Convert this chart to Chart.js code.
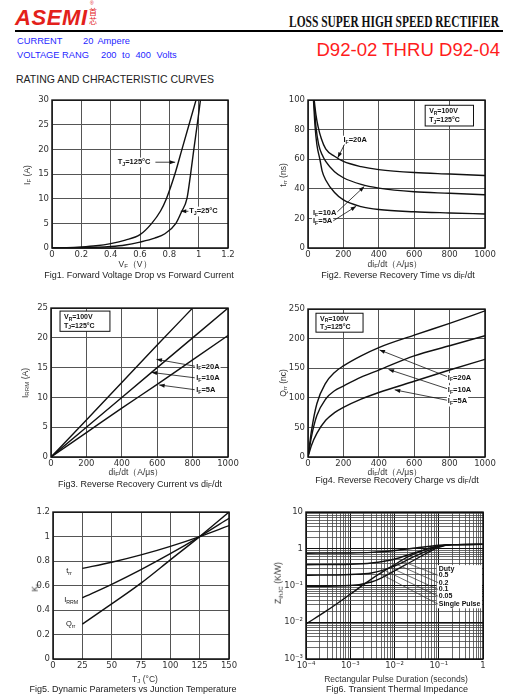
<!DOCTYPE html>
<html>
<head>
<meta charset="utf-8">
<title>D92-02 THRU D92-04</title>
<script src="https://cdn.jsdelivr.net/npm/chart.js@4.4.0/dist/chart.umd.min.js"></script>
<style>
  html, body { margin:0; padding:0; background:#fff; }
  body { position:relative; width:511px; height:698px; overflow:hidden; font-family:"Liberation Sans", Arial, sans-serif; color:#222; }
  .a { position:absolute; white-space:nowrap; line-height:1; }
  .c { transform:translate(-50%,-50%); }
  .r { transform:translate(-50%,-50%) rotate(-90deg); }
  .lm { transform:translateY(-50%); }
  sub { font-size:0.72em; vertical-align:-0.25em; line-height:0; }
  .cap { font-size:9px; color:#222; }
  .ax { font-size:8.5px; color:#333; }
  .blue { color:#1f1fff; font-size:9.3px; }
  .plot { position:absolute; }
</style>
</head>
<body>
<div id="charts"></div>

<!-- header -->
<div class="a" style="left:15px;top:5px;font:italic bold 22px 'Liberation Sans',Arial,sans-serif;color:#e3211b;letter-spacing:0.6px">ASEMI</div>
<div class="a" style="left:90px;top:1px;font-size:5px;color:#e3211b">®</div>
<div class="a" style="left:89px;top:7px;width:8px;font:8px 'Noto Sans CJK SC',sans-serif;line-height:9px;color:#e3211b;white-space:normal">首<br>芯</div>
<div id="ttl" class="a lm" style="left:289px;top:21px;font:bold 17.5px 'Liberation Serif',serif;color:#111;transform-origin:left center">LOSS SUPER HIGH SPEED RECTIFIER</div>
<div class="a" style="left:15px;top:30px;width:488px;height:2px;background:#000"></div>
<div class="a lm blue" style="left:17px;top:42px">CURRENT</div>
<div class="a lm blue" style="left:83px;top:42px;word-spacing:2px">20 Ampere</div>
<div class="a lm blue" style="left:17px;top:56px">VOLTAGE RANG</div>
<div class="a lm blue" style="left:101px;top:56px;word-spacing:3px">200 to 400 Volts</div>
<div class="a lm" style="right:11px;top:50px;font-size:18.6px;color:#ff1c1c">D92-02 THRU D92-04</div>
<div class="a lm" style="left:16px;top:79px;font-size:10.5px;color:#222">RATING AND CHRACTERISTIC CURVES</div>

<!-- axis titles and captions -->
<div class="a r ax" style="left:27px;top:175px">I<sub>F</sub> (A)</div>
<div class="a c ax" style="left:135px;top:264px">V<sub>F</sub>（V）</div>
<div class="a c cap" style="left:139px;top:275px">Fig1. Forward Voltage Drop vs Forward Current</div>

<div class="a r ax" style="left:283px;top:175px">t<sub>rr</sub> (ns)</div>
<div class="a c ax" style="left:395px;top:264px">di<sub>F</sub>/dt（A/μs）</div>
<div class="a c cap" style="left:398px;top:275px">Fig2. Reverse Recovery Time vs di<sub>F</sub>/dt</div>

<div class="a r ax" style="left:25px;top:383px">I<sub>RRM</sub> (A)</div>
<div class="a c ax" style="left:136px;top:472px">di<sub>F</sub>/dt（A/μs）</div>
<div class="a c cap" style="left:140px;top:484px">Fig3. Reverse Recovery Current vs di<sub>F</sub>/dt</div>

<div class="a r ax" style="left:283px;top:383px">Q<sub>rr</sub> (nc)</div>
<div class="a c ax" style="left:395px;top:472px">di<sub>F</sub>/dt（A/μs）</div>
<div class="a c cap" style="left:397px;top:480px">Fig4. Reverse Recovery Charge vs di<sub>F</sub>/dt</div>

<div class="a r ax" style="left:35px;top:588px">K<sub>f</sub></div>
<div class="a c ax" style="left:145px;top:679px">T<sub>J</sub> (°C)</div>
<div class="a c cap" style="left:133px;top:689px">Fig5. Dynamic Parameters vs Junction Temperature</div>

<div class="a r ax" style="left:278px;top:583px">Z<sub>thJC</sub> (K/W)</div>
<div class="a c ax" style="left:396px;top:679px">Rectangular Pulse Duration (seconds)</div>
<div class="a c cap" style="left:397px;top:689px">Fig6. Transient Thermal Impedance</div>

<script>
// ---- Fig1: forward voltage vs forward current
const f1V125 = [0, 0.1, 0.2, 0.3, 0.4, 0.5, 0.6, 0.68, 0.74, 0.78, 0.838, 0.886, 0.934, 0.982];
const f1I125 = [0, 0.05, 0.2, 0.45, 0.9, 1.6, 2.7, 5, 7.5, 10, 15, 20, 25, 30];
const f1V25 = [0, 0.2, 0.4, 0.5, 0.6, 0.7, 0.77, 0.845, 0.884, 0.92, 0.945, 0.967, 0.99, 1.012];
const f1I25 = [0, 0.05, 0.3, 0.6, 1.2, 2.0, 2.9, 5, 7.4, 10, 15, 20, 25, 30];

// ---- Fig2: trr vs diF/dt
const f2X20 = [35, 45, 57, 75, 100, 150, 200, 300, 400, 600, 800, 1000];
const f2Y20 = [100, 90, 82, 74, 67, 62, 58.5, 55, 53, 51, 50, 49];
const f2X10 = [33, 45, 60, 80, 100, 150, 200, 300, 400, 600, 800, 1000];
const f2Y10 = [100, 82, 70, 63, 58.5, 51.5, 47.5, 43, 40.5, 38, 37, 36];
const f2X5 = [31, 40, 50, 67, 80, 100, 150, 200, 300, 400, 600, 800, 1000];
const f2Y5 = [100, 82, 70, 60, 52, 46, 37.5, 32.5, 28, 26, 24.5, 23.7, 23];

// ---- Fig3: Irrm vs diF/dt
const f3X20 = [0, 200, 400, 600, 800];
const f3Y20 = [0, 6.2, 12.5, 18.8, 25];
const f3X = [0, 200, 400, 600, 800, 1000];
const f3Y10 = [0, 5, 10, 15, 20, 25];
const f3Y5 = [0, 4.1, 8.2, 12.2, 16.3, 20.4];

// ---- Fig4: Qrr vs diF/dt
const f4X = [0, 20, 50, 100, 150, 200, 300, 400, 600, 800, 1000];
const f4Y20 = [0, 45, 90, 125, 143, 154, 171, 185, 206, 226, 247];
const f4Y10 = [0, 35, 70, 98, 112, 120, 135, 147, 171, 188, 205];
const f4Y5 = [0, 20, 40, 62, 75, 84, 98, 109, 128, 147, 165];

// ---- Fig5: Kf vs Tj
const f5T = [25, 50, 75, 100, 125, 150];
const f5Trr = [0.74, 0.79, 0.85, 0.92, 1.0, 1.09];
const f5Irrm = [0.5, 0.61, 0.73, 0.86, 1.0, 1.15];
const f5Qrr = [0.285, 0.45, 0.62, 0.81, 1.0, 1.2];

// ---- Fig6: transient thermal impedance
const f6X05 = [1e-4, 1e-3, 3e-3, 1e-2, 3e-2, 1e-1, 2e-1, 1];
const f6Y05 = [0.76, 0.77, 0.8, 0.9, 1.05, 1.25, 1.3, 1.32];
const f6X02 = [1e-4, 1e-3, 3e-3, 1e-2, 3e-2, 1e-1, 2e-1, 1];
const f6Y02 = [0.37, 0.38, 0.41, 0.52, 0.8, 1.2, 1.3, 1.32];
const f6X01 = [1e-4, 1e-3, 3e-3, 1e-2, 3e-2, 1e-1, 2e-1, 1];
const f6Y01 = [0.19, 0.2, 0.22, 0.34, 0.64, 1.15, 1.3, 1.32];
const f6X005 = [1e-4, 1e-3, 3e-3, 5e-3, 1e-2, 3e-2, 1e-1, 2e-1, 1];
const f6Y005 = [0.095, 0.1, 0.125, 0.16, 0.25, 0.52, 1.1, 1.3, 1.32];
const f6XS = [1e-4, 3e-4, 1e-3, 3e-3, 1e-2, 2e-2, 5e-2, 1e-1, 2e-1, 1];
const f6YS = [0.009, 0.021, 0.058, 0.15, 0.37, 0.6, 0.95, 1.18, 1.3, 1.32];
const f6xDecades = [1e-4, 1e-3, 1e-2, 1e-1, 1];
const f6xTickLabels = ['10⁻⁴', '10⁻³', '10⁻²', '10⁻¹', '1'];
const f6yDecades = [1e-3, 1e-2, 1e-1, 1, 10];
const f6yTickLabels = ['10⁻³', '10⁻²', '10⁻¹', '1', '10'];
const f6Labels = ['Duty', '0.5', '0.2', '0.1', '0.05', 'Single Pulse'];
const f6LabelY = [0.29, 0.19, 0.12, 0.078, 0.051, 0.031];
const f6LeadX = [null, 0.0135, 0.0105, 0.008, 0.0062, 0.0048];
const f6LeadY = [null, 0.48, 0.39, 0.31, 0.254, 0.207];

const FONT = '"Liberation Sans", Arial, sans-serif';
const INK = '#111';

// helpers
function pts(xs, ys) { return xs.map((x, i) => ({x: x, y: ys[i]})); }
function line(xs, ys) {
  return { data: pts(xs, ys), showLine: true, borderColor: INK, borderWidth: 1.4, pointRadius: 0, cubicInterpolationMode: 'monotone' };
}
function P(ch, x, y) { return [ch.scales.x.getPixelForValue(x), ch.scales.y.getPixelForValue(y)]; }

function richWidth(ctx, parts, size, bold) {
  let w = 0;
  parts.forEach(p => {
    const sub = p[0] === '_';
    ctx.font = (bold ? 'bold ' : '') + (sub ? size * 0.7 : size) + 'px ' + FONT;
    w += ctx.measureText(sub ? p.slice(1) : p).width;
  });
  return w;
}
function rich(ctx, parts, x, y, size, bold, align, bg) {
  const w = richWidth(ctx, parts, size, bold);
  let cx = align === 'center' ? x - w / 2 : (align === 'right' ? x - w : x);
  if (bg) { ctx.fillStyle = '#fff'; ctx.fillRect(cx - 1, y - size * 0.62, w + 2, size * 1.3); }
  ctx.textBaseline = 'middle'; ctx.textAlign = 'left'; ctx.fillStyle = INK;
  parts.forEach(p => {
    const sub = p[0] === '_';
    const t = sub ? p.slice(1) : p;
    ctx.font = (bold ? 'bold ' : '') + (sub ? size * 0.7 : size) + 'px ' + FONT;
    ctx.fillText(t, cx, y + (sub ? size * 0.3 : 0));
    cx += ctx.measureText(t).width;
  });
}
function arrow(ctx, a, b) {
  ctx.strokeStyle = INK; ctx.lineWidth = 0.8;
  ctx.beginPath(); ctx.moveTo(a[0], a[1]); ctx.lineTo(b[0], b[1]); ctx.stroke();
  const ang = Math.atan2(b[1] - a[1], b[0] - a[0]), L = 5.5, W = 2;
  ctx.beginPath();
  ctx.moveTo(b[0], b[1]);
  ctx.lineTo(b[0] - L * Math.cos(ang) + W * Math.sin(ang), b[1] - L * Math.sin(ang) - W * Math.cos(ang));
  ctx.lineTo(b[0] - L * Math.cos(ang) - W * Math.sin(ang), b[1] - L * Math.sin(ang) + W * Math.cos(ang));
  ctx.closePath(); ctx.fillStyle = INK; ctx.fill();
}
function infoBox(ch, ctx, x1, y1, x2, y2) {
  const a = P(ch, x1, y1), b = P(ch, x2, y2);
  ctx.fillStyle = '#fff'; ctx.fillRect(a[0], a[1], b[0] - a[0], b[1] - a[1]);
  ctx.strokeStyle = INK; ctx.lineWidth = 1; ctx.strokeRect(a[0], a[1], b[0] - a[0], b[1] - a[1]);
  const h = b[1] - a[1];
  rich(ctx, ['V', '_R', '=100V'], a[0] + 4, a[1] + h * 0.3, 7, true, 'left', false);
  rich(ctx, ['T', '_J', '=125°C'], a[0] + 4, a[1] + h * 0.72, 7, true, 'left', false);
}

function tickFont() { return { family: '"DejaVu Sans", sans-serif', size: 8.5 }; }
function linAxis(min, max, step, isX) {
  return {
    type: 'linear', min: min, max: max,
    ticks: { stepSize: step, padding: isX ? 2 : 3, color: '#333', font: tickFont(), autoSkip: false,
             callback: v => String(Math.round(v * 100) / 100) },
    grid: { color: '#555', lineWidth: 1, drawTicks: false },
    border: { display: false },
    afterFit: isX ? (s => { s.height = 16; }) : (s => { s.width = 40; })
  };
}
function frame(ch) {
  const a = ch.chartArea, ctx = ch.ctx;
  ctx.save(); ctx.strokeStyle = INK; ctx.lineWidth = 1.5;
  ctx.strokeRect(a.left, a.top, a.right - a.left, a.bottom - a.top);
  ctx.restore();
}

function mount(rect) {
  const [L, T, R, B] = rect;
  const w = R - L + 56, h = B - T + 24;
  const d = document.createElement('div');
  d.className = 'plot';
  d.style.left = (L - 40) + 'px'; d.style.top = (T - 8) + 'px';
  d.style.width = w + 'px'; d.style.height = h + 'px';
  const c = document.createElement('canvas');
  c.width = w; c.height = h;
  d.appendChild(c);
  document.getElementById('charts').appendChild(d);
  return c;
}

function makeChart(rect, datasets, xAxis, yAxis, draw) {
  return new Chart(mount(rect), {
    type: 'scatter',
    data: { datasets: datasets },
    options: {
      responsive: false, animation: false,
      layout: { padding: { left: 0, top: 8, right: 16, bottom: 0 } },
      plugins: { legend: { display: false }, tooltip: { enabled: false } },
      scales: { x: xAxis, y: yAxis }
    },
    plugins: [{
      id: 'decor',
      afterDatasetsDraw(ch) {
        frame(ch);
        const ctx = ch.ctx; ctx.save(); draw(ch, ctx); ctx.restore();
      }
    }]
  });
}

// Fig1
makeChart([52, 100, 228, 248],
  [line(f1V125, f1I125), line(f1V25, f1I25)],
  linAxis(0, 1.2, 0.2, true), linAxis(0, 30, 5, false),
  (ch, ctx) => {
    let p = P(ch, 0.56, 17.4);
    rich(ctx, ['T', '_J', '=125°C'], p[0], p[1], 7.5, true, 'center', true);
    arrow(ctx, P(ch, 0.705, 17.4), P(ch, 0.84, 17.4));
    p = P(ch, 0.935, 7.45);
    rich(ctx, ['T', '_J', '=25°C'], p[0], p[1], 7.5, true, 'left', true);
    arrow(ctx, P(ch, 0.93, 7.45), P(ch, 0.878, 7.45));
  });

// Fig2
makeChart([308, 100, 485, 248],
  [line(f2X20, f2Y20), line(f2X10, f2Y10), line(f2X5, f2Y5)],
  linAxis(0, 1000, 200, true), linAxis(0, 100, 20, false),
  (ch, ctx) => {
    infoBox(ch, ctx, 662, 96.5, 935, 82.5);
    let p = P(ch, 200, 72.8);
    rich(ctx, ['I', '_F', '=20A'], p[0], p[1], 7.5, true, 'left', true);
    arrow(ctx, P(ch, 206, 70), P(ch, 168, 61));
    p = P(ch, 28, 23.8);
    rich(ctx, ['I', '_F', '=10A'], p[0], p[1], 7.5, true, 'left', true);
    arrow(ctx, P(ch, 166, 24.5), P(ch, 318, 41.6));
    p = P(ch, 28, 18.2);
    rich(ctx, ['I', '_F', '=5A'], p[0], p[1], 7.5, true, 'left', true);
    arrow(ctx, P(ch, 143, 18.4), P(ch, 272, 28.2));
  });

// Fig3
makeChart([51, 308, 228, 457],
  [line(f3X20, f3Y20), line(f3X, f3Y10), line(f3X, f3Y5)],
  linAxis(0, 1000, 200, true), linAxis(0, 25, 5, false),
  (ch, ctx) => {
    infoBox(ch, ctx, 51, 24.5, 333, 21.1);
    const ys = [15.15, 13.2, 11.2], heads = [[596, 16.4], [568, 14.2], [611, 12.1]], tags = ['20A', '10A', '5A'];
    ys.forEach((y, i) => {
      const p = P(ch, 820, y);
      rich(ctx, ['I', '_F', '=' + tags[i]], p[0], p[1], 7.5, true, 'left', true);
      arrow(ctx, P(ch, 812, y + 0.1), P(ch, heads[i][0], heads[i][1]));
    });
  });

// Fig4
makeChart([308, 309, 485, 457],
  [line(f4X, f4Y20), line(f4X, f4Y10), line(f4X, f4Y5)],
  linAxis(0, 1000, 200, true), linAxis(0, 250, 50, false),
  (ch, ctx) => {
    infoBox(ch, ctx, 45, 243, 311, 211);
    const ys = [134, 113.5, 94], heads = [[404, 181], [455, 148], [490, 113.5]], tags = ['20A', '10A', '5A'];
    ys.forEach((y, i) => {
      const p = P(ch, 790, y);
      rich(ctx, ['I', '_F', '=' + tags[i]], p[0], p[1], 7.5, true, 'left', true);
      arrow(ctx, P(ch, 785, y + 2), P(ch, heads[i][0], heads[i][1]));
    });
  });

// Fig5
makeChart([53, 512, 229, 659],
  [line(f5T, f5Trr), line(f5T, f5Irrm), line(f5T, f5Qrr)],
  linAxis(0, 150, 25, true), linAxis(0, 1.2, 0.2, false),
  (ch, ctx) => {
    let p = P(ch, 13.7, 0.72);
    rich(ctx, ['t', '_rr'], p[0], p[1], 7.5, false, 'center', false);
    p = P(ch, 15.5, 0.48);
    rich(ctx, ['I', '_RRM'], p[0], p[1], 7.5, false, 'center', false);
    p = P(ch, 15, 0.285);
    rich(ctx, ['Q', '_rr'], p[0], p[1], 7.5, false, 'center', false);
  });

// Fig6
function logTicks(decades) {
  const out = [];
  for (let i = 0; i < decades.length - 1; i++)
    for (let k = 1; k < 10; k++) out.push(k * decades[i]);
  out.push(decades[decades.length - 1]);
  return out;
}
function decadeIndex(decades, v) { return decades.findIndex(d => Math.abs(d - v) < d * 1e-6); }
function logAxis(decades, labels, isX) {
  return {
    type: 'logarithmic', min: decades[0], max: decades[decades.length - 1],
    afterBuildTicks: s => { s.ticks = logTicks(decades).map(v => ({ value: v })); },
    ticks: { padding: isX ? 2 : 3, color: '#333', font: tickFont(), autoSkip: false, maxRotation: 0,
             callback: v => { const i = decadeIndex(decades, v); return i >= 0 ? labels[i] : ''; } },
    grid: { drawTicks: false,
            color: c => (c.tick && decadeIndex(decades, c.tick.value) >= 0) ? '#111' : '#444',
            lineWidth: c => (c.tick && decadeIndex(decades, c.tick.value) >= 0) ? 1 : 0.8 },
    border: { display: false },
    afterFit: isX ? (s => { s.height = 16; }) : (s => { s.width = 40; })
  };
}
makeChart([306, 512, 483, 659],
  [line(f6X05, f6Y05), line(f6X02, f6Y02), line(f6X01, f6Y01), line(f6X005, f6Y005), line(f6XS, f6YS)],
  logAxis(f6xDecades, f6xTickLabels, true), logAxis(f6yDecades, f6yTickLabels, false),
  (ch, ctx) => {
    const a = P(ch, 0.09, 0.36), b = P(ch, 1, 0.024);
    ctx.fillStyle = '#fff'; ctx.fillRect(a[0], a[1], ch.chartArea.right - a[0] - 1, b[1] - a[1]);
    ctx.strokeStyle = '#333'; ctx.lineWidth = 0.7;
    f6Labels.forEach((t, i) => {
      if (f6LeadX[i] !== null) {
        const s = P(ch, f6LeadX[i], f6LeadY[i]), e = P(ch, 0.097, f6LabelY[i]);
        ctx.beginPath(); ctx.moveTo(s[0], s[1]); ctx.lineTo(e[0], e[1]); ctx.stroke();
      }
      const p = P(ch, 0.1, f6LabelY[i]);
      rich(ctx, [t], p[0], p[1], 7, true, 'left', false);
    });
  });

// squeeze the header title to its width in the reference
const ttl = document.getElementById('ttl');
ttl.style.transform = 'translateY(-50%) scaleX(' + (210 / ttl.offsetWidth) + ')';
</script>
</body>
</html>
